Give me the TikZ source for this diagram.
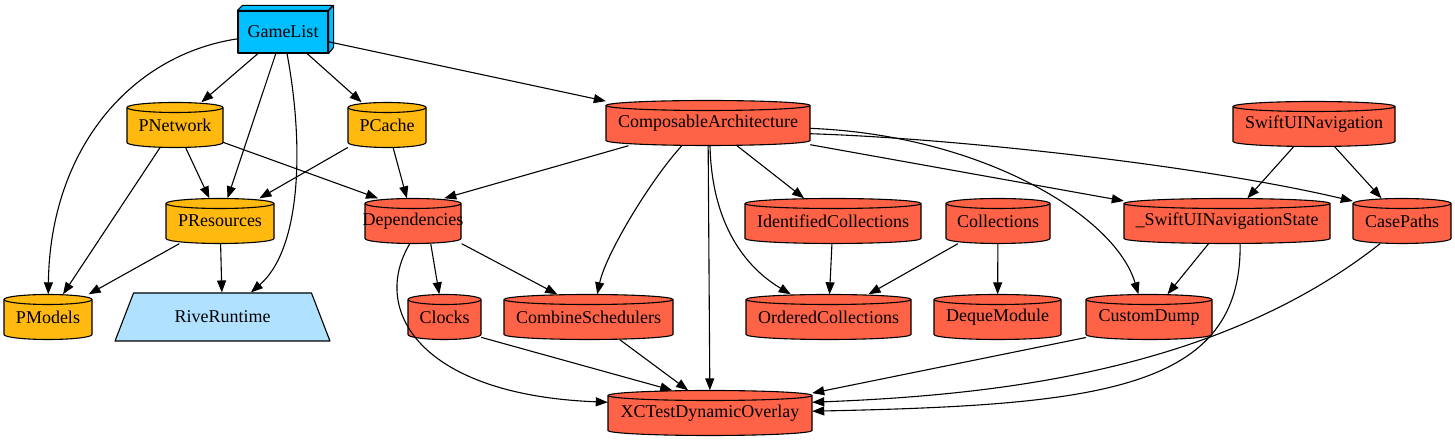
\documentclass[tikz,border=0pt]{standalone}
\usepackage{fontspec}
\setmainfont{Liberation Serif}
\usetikzlibrary{arrows.meta,shapes.geometric,calc}
\definecolor{gvblue}{RGB}{0,191,255}
\definecolor{gvorange}{RGB}{255,185,15}
\definecolor{gvred}{RGB}{255,99,71}
\definecolor{gvlight}{RGB}{176,226,255}
\tikzset{
  lbl/.style={font=\fontsize{18}{20}\selectfont, inner sep=0pt},
  cylbox/.style={rectangle, minimum height=45pt, inner sep=0pt, font=\fontsize{18}{20}\selectfont},
  outline/.style={draw=black, line width=1.1pt, line join=round},
  edge/.style={draw=black, line width=1.1pt, -{Triangle[length=12pt,width=9pt]}},
}
\newcommand\cylnode[6]{%
  \filldraw[outline, fill=#5] ({#2-#4/2},{#3+17.5}) -- ({#2-#4/2},{#3-17.5})
    arc[start angle=180,end angle=360,x radius={#4/2},y radius=5] -- ({#2+#4/2},{#3+17.5})
    arc[start angle=0,end angle=180,x radius={#4/2},y radius=5] -- cycle;
  \draw[outline] ({#2-#4/2},{#3+17.5}) arc[start angle=180,end angle=360,x radius={#4/2},y radius=5];
  \node[cylbox, minimum width=#4pt] (#1) at (#2,#3) {#6};
}
\begin{document}
\begin{tikzpicture}[x=1pt,y=1pt]
\useasboundingbox (0,0) rectangle (1455,443);
% GameList box3d
\node[lbl, rectangle, outline, fill=gvblue, minimum width=90pt, minimum height=42pt] (GameList) at (283,411) {GameList};
\filldraw[outline, fill=gvblue] (GameList.north west) -- ++(5,5) -- ++(90,0) -- (GameList.north east) -- cycle;
\filldraw[outline, fill=gvblue] (GameList.north east) -- ++(5,5) -- ++(0,-42) -- (GameList.south east) -- cycle;
% cylinders
\cylnode{PNetwork}{175}{318}{96}{gvorange}{PNetwork}
\cylnode{PCache}{387}{318}{78}{gvorange}{PCache}
\cylnode{PResources}{220}{222}{108}{gvorange}{PResources}
\cylnode{PModels}{48}{126}{88}{gvorange}{PModels}
\cylnode{CA}{708}{320}{204}{gvred}{ComposableArchitecture}
\cylnode{SUIN}{1314}{319}{162}{gvred}{SwiftUINavigation}
\cylnode{Dependencies}{413}{222}{96}{gvred}{Dependencies}
\cylnode{IC}{833}{222}{176}{gvred}{IdentifiedCollections}
\cylnode{Collections}{998}{222}{104}{gvred}{Collections}
\cylnode{SUINS}{1227}{222}{206}{gvred}{\_SwiftUINavigationState}
\cylnode{CasePaths}{1402}{222}{98}{gvred}{CasePaths}
\cylnode{Clocks}{444.5}{126}{73}{gvred}{Clocks}
\cylnode{CS}{588.5}{126}{169}{gvred}{CombineSchedulers}
\cylnode{OC}{828.5}{126}{165}{gvred}{OrderedCollections}
\cylnode{DM}{997.5}{126}{127}{gvred}{DequeModule}
\cylnode{CD}{1149}{126}{126}{gvred}{CustomDump}
\cylnode{XC}{710}{30}{204}{gvred}{XCTestDynamicOverlay}
% trapezium
\node[lbl, trapezium, trapezium angle=50.5, trapezium stretches=true, minimum width=215pt, minimum height=48pt, outline, fill=gvlight] (RiveRuntime) at (222.5,126) {RiveRuntime};
% edges
\draw[edge] (GameList) .. controls (130,388) and (50,293) .. (PModels);
\draw[edge] (GameList) -- (PNetwork);
\draw[edge] (GameList) -- (PResources);
\draw[edge] (GameList) .. controls (305,293) and (300,193) .. (RiveRuntime);
\draw[edge] (GameList) -- (PCache);
\draw[edge] (GameList) -- (CA);
\draw[edge] (PNetwork) -- (PModels);
\draw[edge] (PNetwork) -- (PResources);
\draw[edge] (PNetwork) -- (Dependencies.147);
\draw[edge] (PCache) -- (PResources);
\draw[edge] (PCache) -- (Dependencies);
\draw[edge] (PResources) -- (PModels);
\draw[edge] (PResources) -- (RiveRuntime);
\draw[edge] (CA) -- (Dependencies.36);
\draw[edge] (CA.221) .. controls (652,265) and (606,190) .. (CS.69);
\draw[edge] (CA) -- (XC);
\draw[edge] (CA.275) .. controls (712,213) and (750,173) .. (OC.149);
\draw[edge] (CA) -- (IC);
\draw[edge] (CA.348) -- (SUINS.169);
\draw[edge] (CA.354) .. controls (950,305) and (1200,278) .. (CasePaths.158);
\draw[edge] (CA.357) .. controls (980,308) and (1115,228) .. (CD.115);
\draw[edge] (Dependencies.308) -- (Clocks.103);
\draw[edge] (Dependencies.335) -- (CS.144);
\draw[edge] (Dependencies.262) .. controls (370,133) and (420,48) .. (XC.174);
\draw[edge] (IC) -- (OC);
\draw[edge] (Collections) -- (OC);
\draw[edge] (Collections) -- (DM);
\draw[edge] (SUIN) -- (SUINS);
\draw[edge] (SUIN) -- (CasePaths);
\draw[edge] (SUINS) -- (CD);
\draw[edge] (SUINS.300) .. controls (1242,53) and (1100,38) .. (XC.1);
\draw[edge] (CasePaths.226) .. controls (1220,73) and (1000,48) .. (XC.6);
\draw[edge] (CD.198) -- (XC.11);
\draw[edge] (Clocks.331) -- (XC.149);
\draw[edge] (CS.324) -- (XC.134);
\end{tikzpicture}
\end{document}
